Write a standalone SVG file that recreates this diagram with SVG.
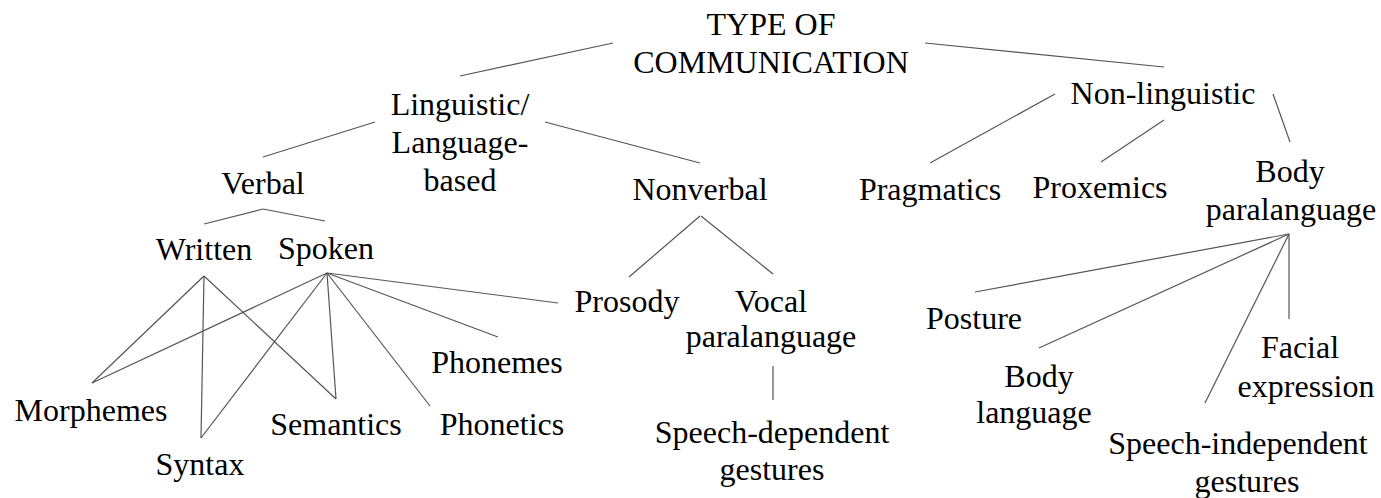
<svg xmlns="http://www.w3.org/2000/svg" width="1381" height="498" viewBox="0 0 1381 498">
<style>
text{font-size:32px;fill:#000;text-anchor:middle}
.c line{stroke:#555;stroke-width:1.2}
</style>
<rect width="1381" height="498" fill="#fff"/>
<g class="c" id="connectors">
<line x1="613" y1="43" x2="460" y2="76"/>
<line x1="925" y1="43" x2="1164" y2="67"/>
<line x1="375" y1="122" x2="263" y2="157"/>
<line x1="545" y1="122" x2="700" y2="163"/>
<line x1="263" y1="209" x2="204" y2="224"/>
<line x1="263" y1="209" x2="325" y2="221"/>
<line x1="700" y1="216" x2="629" y2="277"/>
<line x1="701" y1="216" x2="773" y2="274"/>
<line x1="773" y1="366" x2="773" y2="400"/>
<line x1="1055" y1="94" x2="930" y2="163"/>
<line x1="1164" y1="120" x2="1101" y2="162"/>
<line x1="1273" y1="94" x2="1290" y2="142"/>
<line x1="204" y1="276" x2="92" y2="383"/>
<line x1="204" y1="276" x2="201" y2="438"/>
<line x1="204" y1="276" x2="336" y2="399"/>
<line x1="327" y1="273" x2="92" y2="383"/>
<line x1="327" y1="273" x2="201" y2="438"/>
<line x1="327" y1="273" x2="336" y2="399"/>
<line x1="327" y1="273" x2="430" y2="406"/>
<line x1="327" y1="273" x2="498" y2="337"/>
<line x1="327" y1="273" x2="558" y2="303"/>
<line x1="1289" y1="234" x2="975" y2="292"/>
<line x1="1289" y1="234" x2="1039" y2="348"/>
<line x1="1289" y1="234" x2="1205" y2="403"/>
<line x1="1289" y1="234" x2="1289" y2="319"/>
</g>
<g font-family="'Liberation Serif', 'DejaVu Serif', serif">
<g id="type"><text x="771" y="35">TYPE OF</text><text x="771" y="73">COMMUNICATION</text></g>
<g id="linguistic"><text x="460" y="115">Linguistic/</text><text x="460" y="153">Language-</text><text x="460" y="191">based</text></g>
<g id="nonlinguistic"><text x="1163" y="104">Non-linguistic</text></g>
<g id="verbal"><text x="263" y="194">Verbal</text></g>
<g id="nonverbal"><text x="700" y="200">Nonverbal</text></g>
<g id="pragmatics"><text x="930" y="200">Pragmatics</text></g>
<g id="proxemics"><text x="1100" y="198">Proxemics</text></g>
<g id="bodypara"><text x="1290" y="182">Body</text><text x="1291" y="220">paralanguage</text></g>
<g id="written"><text x="204" y="260">Written</text></g>
<g id="spoken"><text x="326" y="259">Spoken</text></g>
<g id="morphemes"><text x="91" y="421">Morphemes</text></g>
<g id="syntax"><text x="200" y="475">Syntax</text></g>
<g id="semantics"><text x="336" y="435">Semantics</text></g>
<g id="phonetics"><text x="502" y="435">Phonetics</text></g>
<g id="phonemes"><text x="497" y="373">Phonemes</text></g>
<g id="prosody"><text x="627" y="312">Prosody</text></g>
<g id="vocal"><text x="771" y="312">Vocal</text><text x="771" y="347">paralanguage</text></g>
<g id="speechdep"><text x="772" y="443">Speech-dependent</text><text x="772" y="480">gestures</text></g>
<g id="posture"><text x="974" y="329">Posture</text></g>
<g id="bodylang"><text x="1039" y="387">Body</text><text x="1034" y="423">language</text></g>
<g id="facial"><text x="1300" y="358">Facial</text><text x="1306" y="397">expression</text></g>
<g id="speechindep"><text x="1238" y="454">Speech-independent</text><text x="1247" y="492">gestures</text></g>
</g>
</svg>
